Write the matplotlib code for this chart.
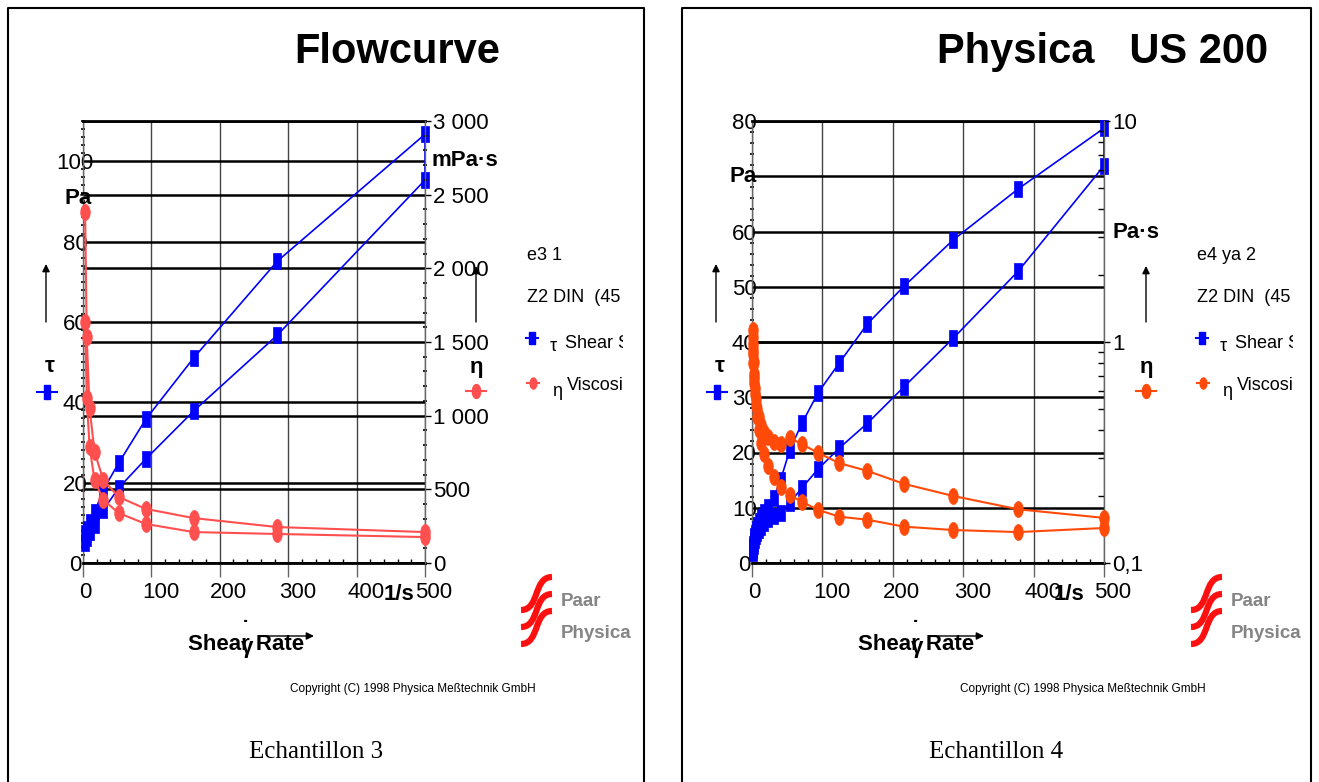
import numpy as np
import matplotlib
matplotlib.use("Agg")
import matplotlib.pyplot as plt
from matplotlib import font_manager
from matplotlib.lines import Line2D
from matplotlib.patches import FancyArrowPatch, PathPatch
from matplotlib.path import Path
from matplotlib.ticker import MultipleLocator, LogLocator, NullFormatter
from matplotlib.transforms import blended_transform_factory, ScaledTranslation, Bbox, TransformedBbox

plt.rcParams['font.family'] = ['Liberation Sans', 'DejaVu Sans']

# Echantillon 3: shear rate (1/s), shear stress (Pa), viscosity (mPa·s)
rate_3 = [3.1, 5.45, 9.6, 16.9, 29.7, 52.2, 91.9, 161.6, 284, 500]
tau_3_up = [7.4, 8.4, 10.1, 12.7, 18.2, 24.9, 35.8, 51.0, 75.1, 106.7]
tau_3_down = [5.1, 6.1, 7.6, 9.5, 13.2, 18.7, 25.9, 37.8, 56.7, 95.3]
eta_3_up = [2382, 1534, 1052, 753, 563, 448, 367, 305, 244, 210]
eta_3_down = [1636, 1120, 787, 563, 428, 339, 265, 210, 197, 176]

# Echantillon 4: shear rate (1/s), shear stress (Pa), viscosity (Pa·s)
rate_4 = [1.08, 1.43, 1.9, 2.5, 3.3, 4.35, 5.75, 7.6, 10.1, 13.3, 17.6, 23.2,
          30.7, 40.6, 53.7, 71, 93.8, 124, 164, 216, 286, 378, 500]
tau_4_up = [2.4, 2.9, 3.5, 4.2, 4.8, 5.5, 6.1, 6.8, 7.6, 8.4, 9.2, 10.2,
            11.8, 15.0, 20.5, 25.3, 30.8, 36.2, 43.3, 50.1, 58.5, 67.7, 78.7]
tau_4_down = [1.9, 2.3, 2.7, 3.1, 3.6, 4.2, 4.8, 5.4, 6.0, 6.6, 7.2, 7.9,
              8.5, 9.0, 10.9, 13.6, 17.0, 20.8, 25.3, 31.9, 40.7, 52.8, 71.9]
eta_4_up = [1.13, 1.05, 0.92, 0.81, 0.69, 0.62, 0.55, 0.50, 0.46, 0.42, 0.39, 0.37,
            0.353, 0.345, 0.368, 0.345, 0.315, 0.283, 0.261, 0.228, 0.201, 0.175, 0.160]
eta_4_down = [0.98, 0.88, 0.80, 0.72, 0.65, 0.58, 0.52, 0.46, 0.40, 0.35, 0.31, 0.275,
              0.245, 0.221, 0.203, 0.189, 0.174, 0.162, 0.157, 0.146, 0.141, 0.138, 0.144]

rate_ticks = [0, 100, 200, 300, 400, 500]
tau_ticks_3 = [0, 20, 40, 60, 80, 100]
tau_labels_3 = ['0', '20', '40', '60', '80', '100']
eta_ticks_3 = [0, 500, 1000, 1500, 2000, 2500, 3000]
eta_labels_3 = ['0', '500', '1 000', '1 500', '2 000', '2 500', '3 000']
tau_ticks_4 = [0, 10, 20, 30, 40, 50, 60, 70, 80]
tau_labels_4 = ['0', '10', '20', '30', '40', '50', '60', '', '80']   # "Pa" sits where 70 would be
eta_ticks_4 = [0.1, 1, 10]
eta_labels_4 = ['0,1', '1', '10']

BLUE = '#0000ff'
RED_3 = '#ff4f4f'
RED_4 = '#ff4a0a'
GRAY = '#858585'

W, H = 1319, 782
fig = plt.figure(figsize=(W / 100, H / 100), dpi=100)
fig.patch.set_facecolor('white')


def fx(x):
    return x / W


def fy(y):
    return 1 - y / H


RECT = [(-0.5, -1), (0.5, -1), (0.5, 1), (-0.5, 1), (-0.5, -1)]
t = np.linspace(0, 2 * np.pi, 40)
ELLIPSE = list(zip(0.6 * np.cos(t), np.sin(t)))

names = {f.name for f in font_manager.fontManager.ttflist}
NARROW = 'Liberation Sans Narrow' if 'Liberation Sans Narrow' in names else 'Liberation Sans'
LOGO_SIZE = 14.5 if NARROW != 'Liberation Sans' else 13.5


def draw_chart(x0, x1, rate, tau_up, tau_down, eta_up, eta_down, tau_ticks, tau_labels, tau_top,
               eta_ticks, eta_labels, eta_lim, log_eta, red):
    ax = fig.add_axes([fx(x0), fy(563), (x1 - x0) / W, 442 / H])
    ax2 = ax.twinx()
    if log_eta:
        ax2.set_yscale('log')
    ax.set_xlim(0, 500)
    ax.set_ylim(0, tau_top)
    ax2.set_ylim(*eta_lim)

    rates = rate + rate[::-1]
    ax.plot(rates, tau_up + tau_down[::-1], color=BLUE, lw=1.2, marker=RECT, ms=11.5,
            mfc=BLUE, mec=BLUE, mew=0.5, zorder=3, clip_on=False)
    ax2.plot(rates, eta_up + eta_down[::-1], color=red, lw=1.5, marker=ELLIPSE, ms=11.5,
             mfc=red, mec=red, mew=0.5, zorder=3, clip_on=False)

    # grid: left ticks, right ticks, shear-rate ticks
    ax.set_xticks(rate_ticks)
    ax.set_yticks(tau_ticks, tau_labels)
    ax.set_axisbelow(True)
    ax.yaxis.grid(True, color='black', lw=1.8)
    ax.xaxis.grid(True, color='#444444', lw=1)
    trans = blended_transform_factory(ax.transAxes, ax2.transData)
    ax.hlines(eta_ticks, 0, 1, transform=trans, color='black', lw=1.8, zorder=1)
    ax.set_xlim(0, 500)
    ax.set_ylim(0, tau_top)

    for s in ['top', 'bottom']:
        ax.spines[s].set_color('black')
        ax.spines[s].set_linewidth(2)
    ax.spines['left'].set_color('#666666')
    ax.spines['left'].set_linewidth(1)
    ax.spines['right'].set_visible(False)
    for s in ['top', 'bottom', 'left']:
        ax2.spines[s].set_visible(False)
    ax2.spines['right'].set_color('#666666')
    ax2.spines['right'].set_linewidth(1)

    ax.xaxis.set_minor_locator(MultipleLocator(20))
    ax.tick_params(axis='x', which='major', direction='out', length=10, width=1,
                   color='#666666', labelsize=16, pad=3.5)
    ax.tick_params(axis='x', which='minor', direction='in', length=3, width=1, color='black')
    ax.yaxis.set_minor_locator(MultipleLocator(2))
    ax.tick_params(axis='y', which='major', length=0, labelsize=16, pad=5.5)
    ax.tick_params(axis='y', which='minor', direction='inout', length=3, width=1.2, color='black')
    plt.setp(ax.get_yticklabels(), ha='center')

    ax2.set_yticks(eta_ticks, eta_labels)
    if log_eta:
        ax2.yaxis.set_minor_locator(LogLocator(base=10, subs=np.arange(2, 10)))
        ax2.yaxis.set_minor_formatter(NullFormatter())
        ax2.tick_params(axis='y', which='minor', direction='in', length=4, width=1, color='black')
    else:
        ax2.yaxis.set_minor_locator(MultipleLocator(100))
        ax2.tick_params(axis='y', which='minor', direction='inout', length=3, width=1.2, color='black')
    ax2.tick_params(axis='y', which='major', direction='out', length=4, width=1,
                    color='black', labelsize=16, pad=2)
    ax2.set_ylim(*eta_lim)

    # the rate labels sit a little right of their ticks, "0" only slightly
    for i, lbl in enumerate(ax.get_xticklabels()):
        shift = 2 if i == 0 else 9
        lbl.set_transform(lbl.get_transform() + ScaledTranslation(shift / 100, 0, fig.dpi_scale_trans))
    return ax, ax2


def txt(x, y, s, size=16, weight='normal', ha='center', va='center', **kw):
    return fig.text(fx(x), fy(y), s, fontsize=size, fontweight=weight, ha=ha, va=va, **kw)


def clipped(x, y, s, clip_x, size=13):
    tt = txt(x, y, s, size=size, ha='left')
    tt.set_clip_box(TransformedBbox(Bbox([[0, 0], [fx(clip_x), 1]]), fig.transFigure))
    tt.set_clip_on(True)


def arrow(x0, y0, x1, y1):
    fig.add_artist(FancyArrowPatch((fx(x0), fy(y0)), (fx(x1), fy(y1)),
                                   transform=fig.transFigure, arrowstyle='-|>',
                                   mutation_scale=11, lw=1, color='black',
                                   shrinkA=0, shrinkB=0))


def icon(x, y, color, marker, half, ms):
    fig.add_artist(Line2D([fx(x - half), fx(x + half)], [fy(y), fy(y)],
                          transform=fig.transFigure, color=color, lw=1.5))
    fig.add_artist(Line2D([fx(x)], [fy(y)], transform=fig.transFigure, ls='none',
                          marker=marker, ms=ms, mfc=color, mec=color))


def logo(x0, y0, red):
    for i in range(3):
        yb = y0 + 33 + 17 * i
        yt = y0 + 17 * i
        verts = [(fx(x0), fy(yb)), (fx(x0 + 19), fy(yb)), (fx(x0 + 12), fy(yt)), (fx(x0 + 31), fy(yt))]
        path = Path(verts, [Path.MOVETO, Path.CURVE4, Path.CURVE4, Path.CURVE4])
        fig.add_artist(PathPatch(path, fill=False, ec=red, lw=4.5, capstyle='butt',
                                 transform=fig.transFigure))
    txt(x0 + 40, y0 + 25, 'Paar', size=LOGO_SIZE, weight='bold', ha='left',
        color=GRAY, family=NARROW)
    txt(x0 + 40, y0 + 57, 'Physica', size=LOGO_SIZE, weight='bold', ha='left',
        color=GRAY, family=NARROW)


def panel_border(x0, x1):
    fig.add_artist(Line2D([fx(x0), fx(x0), fx(x1), fx(x1)], [fy(H + 5), fy(8), fy(8), fy(H + 5)],
                          transform=fig.transFigure, color='black', lw=1.5))


def decorate(dx, title, title_x, name, leg1, red, pa_xy, unit, unit_xy):
    txt(title_x, 52, title, size=30, weight='bold')
    txt(pa_xy[0], pa_xy[1], 'Pa', weight='bold')
    arrow(46 + dx, 322, 46 + dx, 264)
    txt(50 + dx, 367, 'τ', weight='bold')
    icon(47 + dx, 392, BLUE, RECT, 10, 10)
    txt(unit_xy[0], unit_xy[1], unit, weight='bold', ha='left')
    arrow(476 + dx, 322, 476 + dx, 266)
    txt(477 + dx, 367, 'η', weight='bold')
    icon(476 + dx, 391, red, ELLIPSE, 10, 10)

    clip_x = 623 + dx
    clipped(527 + dx, 255, leg1, clip_x)
    clipped(527 + dx, 298, 'Z2 DIN  (45 mm)', clip_x)
    icon(532 + dx, 338, BLUE, RECT, 6, 8)
    txt(550 + dx, 347, 'τ', size=13, ha='left')
    clipped(565 + dx, 343, 'Shear Stress', clip_x)
    icon(533 + dx, 383, red, ELLIPSE, 6, 8)
    txt(552 + dx, 391, 'η', size=13, ha='left')
    clipped(567 + dx, 386, 'Viscosity', clip_x)

    txt(399 + dx, 594, '1/s', weight='bold')
    txt(246 + dx, 644, 'Shear Rate', weight='bold')
    txt(247 + dx, 648, 'γ', weight='bold')
    txt(246 + dx, 631, '˙', weight='bold')
    arrow(265 + dx, 636, 314 + dx, 636)

    logo(521 + dx, 577, '#ff1010')
    txt(413 + dx, 689, 'Copyright (C) 1998 Physica Meßtechnik GmbH', size=8.5)
    txt(316 + dx * 1.015, 752, name, size=18, family='Liberation Serif')


panel_border(8, 644)
panel_border(682, 1311)

draw_chart(83, 425, rate_3, tau_3_up, tau_3_down, eta_3_up, eta_3_down, tau_ticks_3, tau_labels_3, 110,
           eta_ticks_3, eta_labels_3, (0, 3000), False, RED_3)
draw_chart(752, 1104, rate_4, tau_4_up, tau_4_down, eta_4_up, eta_4_down, tau_ticks_4, tau_labels_4, 80,
           eta_ticks_4, eta_labels_4, (0.1, 10), True, RED_4)

decorate(0, 'Flowcurve', 397, 'Echantillon 3', 'e3 1', RED_3, (78, 199), 'mPa·s', (432, 161))
decorate(670, 'Physica   US 200', 1103, 'Echantillon 4', 'e4 ya 2', RED_4, (743, 177), 'Pa·s', (1113, 233))

fig.savefig('out.png', dpi=100)
